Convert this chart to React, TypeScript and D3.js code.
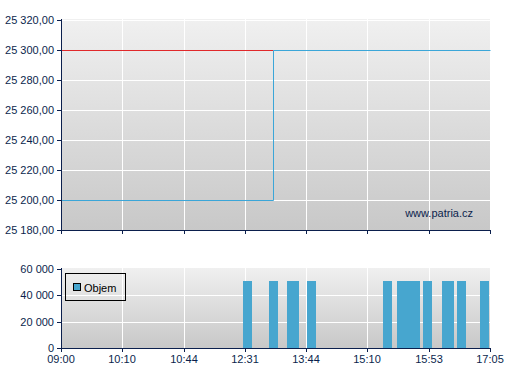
import React from "react";
import * as d3 from "d3";

// ---- data ----
const tickTimes = ["09:00", "10:10", "10:44", "12:31", "13:44", "15:10", "15:53", "17:05"];
const priceTicks = [25180, 25200, 25220, 25240, 25260, 25280, 25300, 25320];
const volumeTicks = [0, 20000, 40000, 60000];
// price step series (blue)
const priceTimes = ["09:00", "13:05", "17:05"];
const priceValues = [25200, 25300, 25300];
// reference line (red)
const refTimes = ["09:00", "13:05"];
const refValues = [25300, 25300];
// volume bars
const volTimes = ["12:34", "13:05", "13:27", "13:30", "13:52", "15:24", "15:34", "15:39", "15:44", "15:52", "16:14", "16:18", "16:32", "16:59"];
const volValues = [51000, 51000, 51000, 51000, 51000, 51000, 51000, 51000, 51000, 51000, 51000, 51000, 51000, 51000];

const toMin = (t: string) => {
  const [h, m] = t.split(":").map(Number);
  return h * 60 + m;
};

const fmtThousands = (v: number) => {
  const s = Math.round(v).toString();
  return s.replace(/\B(?=(\d{3})+(?!\d))/g, " ");
};
const fmtPrice = (v: number) => fmtThousands(v) + ",00";

export default function App() {
  const W = 507, H = 380;
  const left = 61, right = 490;
  const top1 = 20, bottom1 = 230;
  const top2 = 269, bottom2 = 348;
  const navy = "#0b1f4d";
  const font = "Liberation Sans, Arial, sans-serif";

  const x = d3
    .scaleLinear()
    .domain(tickTimes.map(toMin))
    .range(tickTimes.map((_, i) => left + ((right - left) * i) / (tickTimes.length - 1)));

  const y1 = d3.scaleLinear().domain([25180, 25320]).range([bottom1, top1]);
  const y2 = d3.scaleLinear().domain([0, 60000]).range([bottom2, top2]);

  const stepLine = d3
    .line<[number, number]>()
    .x((d) => Math.round(x(d[0])) + 0.5)
    .y((d) => Math.round(y1(d[1])) + 0.5)
    .curve(d3.curveStepAfter);

  const pricePath = stepLine(priceTimes.map((t, i) => [toMin(t), priceValues[i]]))!;
  const refPath = stepLine(refTimes.map((t, i) => [toMin(t), refValues[i]]))!;

  const barW = 9;
  const tickXs = tickTimes.map((t) => Math.round(x(toMin(t))));
  const c = (v: number) => Math.round(v) + 0.5;

  return (
    <svg width={W} height={H} style={{ position: "absolute", left: 0, top: 0 }} fontFamily={font}>
      <defs>
        <linearGradient id="bg" x1="0" y1="0" x2="0" y2="1">
          <stop offset="0" stopColor="#f0f0f0" />
          <stop offset="1" stopColor="#c8c8c8" />
        </linearGradient>
        <clipPath id="clip2">
          <rect x={left} y={top2 - 2} width={right - left} height={bottom2 - top2 + 2} />
        </clipPath>
      </defs>
      <rect width={W} height={H} fill="#ffffff" />

      {/* top panel */}
      <rect x={left} y={top1 - 1} width={right - left} height={bottom1 - top1 + 1} fill="url(#bg)" />
      {priceTicks.slice(1).map((v) => (
        <line key={"hg" + v} x1={left} x2={right} y1={c(y1(v))} y2={c(y1(v))} stroke="#ffffff" strokeWidth={1} />
      ))}
      {tickXs.slice(1, -1).map((tx, i) => (
        <line key={"vg" + i} x1={tx + 0.5} x2={tx + 0.5} y1={top1 - 1} y2={bottom1} stroke="#ffffff" strokeWidth={1} />
      ))}
      <path d={refPath} fill="none" stroke="#e0282a" strokeWidth={1} />
      <path d={pricePath} fill="none" stroke="#3ba6d8" strokeWidth={1} />
      <text x={473} y={217} fontSize={11} fill={navy} textAnchor="end">www.patria.cz</text>
      <line x1={left + 0.5} x2={left + 0.5} y1={top1 - 1} y2={bottom1} stroke={navy} strokeWidth={1} />
      <line x1={left} x2={right + 1} y1={bottom1 + 0.5} y2={bottom1 + 0.5} stroke={navy} strokeWidth={1} />
      {priceTicks.map((v) => (
        <g key={"yt" + v}>
          <line x1={left - 4} x2={left} y1={c(y1(v))} y2={c(y1(v))} stroke={navy} />
          <text x={left - 7} y={y1(v) + 4} fontSize={11} fill={navy} textAnchor="end">{fmtPrice(v)}</text>
        </g>
      ))}
      {tickXs.map((tx, i) => (
        <line key={"xt1" + i} x1={tx + 0.5} x2={tx + 0.5} y1={bottom1} y2={bottom1 + 4} stroke={navy} />
      ))}

      {/* bottom panel */}
      <rect x={left} y={top2 - 1} width={right - left} height={bottom2 - top2 + 1} fill="url(#bg)" />
      {volumeTicks.slice(1, -1).map((v) => (
        <line key={"hg2" + v} x1={left} x2={right} y1={c(y2(v))} y2={c(y2(v))} stroke="#ffffff" strokeWidth={1} />
      ))}
      {tickXs.slice(1, -1).map((tx, i) => (
        <line key={"vg2" + i} x1={tx + 0.5} x2={tx + 0.5} y1={top2 - 1} y2={bottom2} stroke="#ffffff" strokeWidth={1} />
      ))}
      <g clipPath="url(#clip2)" shapeRendering="crispEdges">
        {volTimes.map((t, i) => (
          <rect
            key={"b" + i}
            x={Math.round(x(toMin(t)) - barW / 2)}
            y={Math.round(y2(volValues[i]))}
            width={barW}
            height={bottom2 - Math.round(y2(volValues[i]))}
            fill="#47a6cf"
          />
        ))}
      </g>
      <line x1={left + 0.5} x2={left + 0.5} y1={top2 - 1} y2={bottom2} stroke={navy} strokeWidth={1} />
      <line x1={left} x2={right + 1} y1={bottom2 + 0.5} y2={bottom2 + 0.5} stroke={navy} strokeWidth={1} />
      {volumeTicks.map((v) => (
        <g key={"yt2" + v}>
          <line x1={left - 4} x2={left} y1={c(y2(v))} y2={c(y2(v))} stroke={navy} />
          <text x={left - 7} y={y2(v) + 4} fontSize={11} fill={navy} textAnchor="end">{fmtThousands(v)}</text>
        </g>
      ))}
      {tickXs.map((tx, i) => (
        <g key={"xt2" + i}>
          <line x1={tx + 0.5} x2={tx + 0.5} y1={bottom2} y2={bottom2 + 4} stroke={navy} />
          <text x={tx} y={bottom2 + 15} fontSize={11} fill={navy} textAnchor="middle">{tickTimes[i]}</text>
        </g>
      ))}

      {/* legend */}
      <rect x={65.5} y={273.5} width={60} height={27} fill="none" stroke="#000000" strokeWidth={1} />
      <rect x={73.5} y={283.5} width={7} height={7} fill="#47a6cf" stroke="#000000" strokeWidth={1} />
      <text x={84} y={292} fontSize={11} fill="#000000">Objem</text>
    </svg>
  );
}
